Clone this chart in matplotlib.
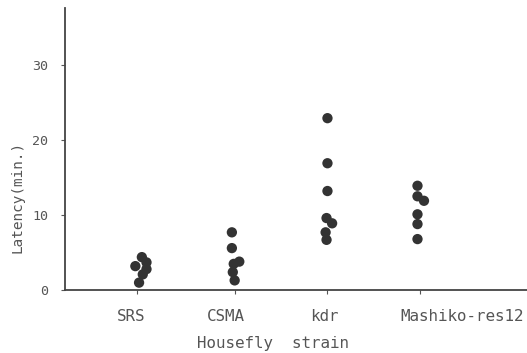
import matplotlib
matplotlib.use("Agg")
import matplotlib.pyplot as plt
from matplotlib.transforms import blended_transform_factory

strains = ["SRS", "CSMA", "kdr", "Mashiko-res12"]

# latency (min.) of individual flies
srs = [4.4, 3.7, 3.2, 2.8, 2.1, 1.0]
csma = [7.7, 5.6, 3.8, 3.5, 2.4, 1.3]
kdr = [22.9, 16.9, 13.2, 9.6, 8.9, 7.7, 6.7]
mashiko = [13.9, 12.5, 11.9, 10.1, 8.8, 6.8]

# small horizontal offsets so overlapping dots stay visible
jit = [[0.0, 0.05, -0.07, 0.05, 0.01, -0.03],
       [-0.03, -0.03, 0.05, -0.01, -0.02, 0.0],
       [0.0, 0.0, 0.0, -0.01, 0.05, -0.02, -0.01],
       [-0.03, -0.03, 0.04, -0.03, -0.03, -0.03]]
# label placement relative to each group (as typeset in the original)
lab_dx = [-0.12, -0.1, -0.03, 0.45]

GREY = "#555555"
DOT = "#333333"
MONO = "DejaVu Sans Mono"

fig = plt.figure(figsize=(5.27, 3.53), dpi=100)
ax = fig.add_axes([0.123, 0.178, 0.877, 0.80])

for i, vals in enumerate([srs, csma, kdr, mashiko]):
    xs = [i + 1 + j for j in jit[i]]
    ax.scatter(xs, vals, s=55, color=DOT, edgecolor="none", zorder=3)

ax.set_xlim(0.17, 5.15)
ax.set_ylim(0, 37.6)
ax.set_yticks([0, 10, 20, 30])
ax.set_xticks([0.95, 2.0, 3.0, 4.0])
ax.set_xticklabels([])
ax.tick_params(axis="y", length=3, color=GREY, labelsize=9.6, labelcolor=GREY, pad=9)
ax.tick_params(axis="x", length=3, color=GREY)
for lab in ax.get_yticklabels():
    lab.set_family(MONO)

trans = blended_transform_factory(ax.transData, ax.transAxes)
for i, name in enumerate(strains):
    ax.text(i + 1 + lab_dx[i], -0.092, name, transform=trans, ha="center",
            va="center", fontsize=11.4, color=GREY, family=MONO)

for s in ("top", "right"):
    ax.spines[s].set_visible(False)
for s in ("left", "bottom"):
    ax.spines[s].set_color("#444444")
    ax.spines[s].set_linewidth(1.3)

ax.text(-0.103, 0.331, "Latency(min.)", transform=ax.transAxes, rotation=90,
        ha="center", va="center", fontsize=10.4, color=GREY, family=MONO)
ax.text(0.45, -0.188, "Housefly  strain", transform=ax.transAxes, ha="center",
        va="center", fontsize=11.4, color=GREY, family=MONO)

fig.savefig("out.png", dpi=100)
